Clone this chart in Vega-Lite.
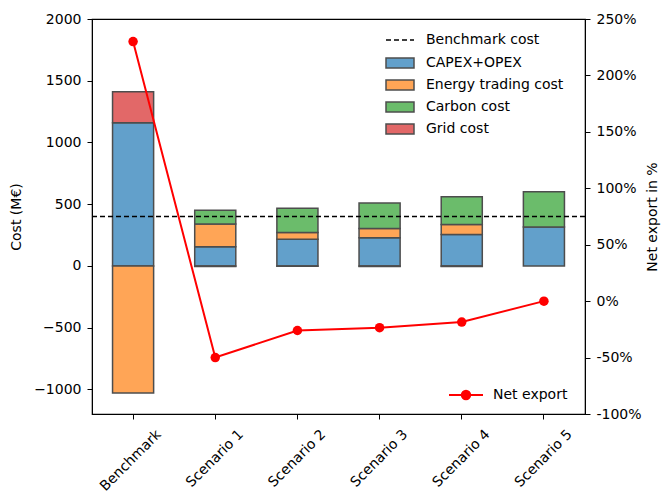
{
  "$schema": "https://vega.github.io/schema/vega-lite/v6.json",
  "width": 493,
  "height": 395,
  "padding": {"left": 9, "top": 12, "right": 2, "bottom": 5},
  "config": {
    "font": "DejaVu Sans",
    "view": {"stroke": "black", "strokeWidth": 1.2},
    "axis": {"grid": false, "labelFontSize": 14, "titleFontSize": 14, "titleFontWeight": "normal", "labelColor": "black", "titleColor": "black", "domainColor": "black", "tickColor": "black", "tickSize": 5, "labelPadding": 6, "labelFont": "DejaVu Sans", "titleFont": "DejaVu Sans"},
    "legend": {"labelFontSize": 14, "labelFont": "DejaVu Sans", "labelColor": "black"}
  },
  "datasets": {
    "costs": [
      {"scenario": "Benchmark", "component": "CAPEX+OPEX", "ord": 1, "value": 1160},
      {"scenario": "Benchmark", "component": "Energy trading cost", "ord": 2, "value": -1030},
      {"scenario": "Benchmark", "component": "Carbon cost", "ord": 3, "value": 0},
      {"scenario": "Benchmark", "component": "Grid cost", "ord": 4, "value": 250},
      {"scenario": "Scenario 1", "component": "CAPEX+OPEX", "ord": 1, "value": 155},
      {"scenario": "Scenario 1", "component": "Energy trading cost", "ord": 2, "value": 185},
      {"scenario": "Scenario 1", "component": "Carbon cost", "ord": 3, "value": 110},
      {"scenario": "Scenario 1", "component": "Grid cost", "ord": 4, "value": -5},
      {"scenario": "Scenario 2", "component": "CAPEX+OPEX", "ord": 1, "value": 215},
      {"scenario": "Scenario 2", "component": "Energy trading cost", "ord": 2, "value": 55},
      {"scenario": "Scenario 2", "component": "Carbon cost", "ord": 3, "value": 197},
      {"scenario": "Scenario 2", "component": "Grid cost", "ord": 4, "value": -3},
      {"scenario": "Scenario 3", "component": "CAPEX+OPEX", "ord": 1, "value": 228},
      {"scenario": "Scenario 3", "component": "Energy trading cost", "ord": 2, "value": 75},
      {"scenario": "Scenario 3", "component": "Carbon cost", "ord": 3, "value": 207},
      {"scenario": "Scenario 3", "component": "Grid cost", "ord": 4, "value": -6},
      {"scenario": "Scenario 4", "component": "CAPEX+OPEX", "ord": 1, "value": 255},
      {"scenario": "Scenario 4", "component": "Energy trading cost", "ord": 2, "value": 80},
      {"scenario": "Scenario 4", "component": "Carbon cost", "ord": 3, "value": 225},
      {"scenario": "Scenario 4", "component": "Grid cost", "ord": 4, "value": -6},
      {"scenario": "Scenario 5", "component": "CAPEX+OPEX", "ord": 1, "value": 315},
      {"scenario": "Scenario 5", "component": "Energy trading cost", "ord": 2, "value": 0},
      {"scenario": "Scenario 5", "component": "Carbon cost", "ord": 3, "value": 285},
      {"scenario": "Scenario 5", "component": "Grid cost", "ord": 4, "value": 0}
    ],
    "bench": [{"label": "Benchmark cost", "value": 400}],
    "export": [
      {"scenario": "Benchmark", "series": "Net export", "pct": 230},
      {"scenario": "Scenario 1", "series": "Net export", "pct": -50},
      {"scenario": "Scenario 2", "series": "Net export", "pct": -26},
      {"scenario": "Scenario 3", "series": "Net export", "pct": -23.5},
      {"scenario": "Scenario 4", "series": "Net export", "pct": -18.5},
      {"scenario": "Scenario 5", "series": "Net export", "pct": 0}
    ]
  },
  "layer": [
    {
      "layer": [
        {
          "data": {"name": "costs"},
          "transform": [{"filter": "datum.value != 0"}],
          "mark": {"type": "bar", "stroke": "#4d4d4d", "strokeWidth": 1.5},
          "encoding": {
            "x": {
              "field": "scenario", "type": "nominal",
              "sort": ["Benchmark", "Scenario 1", "Scenario 2", "Scenario 3", "Scenario 4", "Scenario 5"],
              "scale": {"paddingInner": 0.5, "paddingOuter": 0.25},
              "axis": {"title": null, "labelAngle": -45, "labelAlign": "right", "labelBaseline": "top", "labelPadding": 8, "labelOffset": 21}
            },
            "y": {
              "field": "value", "type": "quantitative", "stack": "zero",
              "scale": {"domain": [-1200, 2000], "nice": false},
              "axis": {"title": "Cost (M€)", "values": [-1000, -500, 0, 500, 1000, 1500, 2000], "labelExpr": "replace(datum.label, '-', '−')", "format": "d", "titlePadding": 10}
            },
            "fill": {
              "field": "component", "type": "nominal",
              "scale": {"domain": ["CAPEX+OPEX", "Energy trading cost", "Carbon cost", "Grid cost"], "range": ["#62a0cb", "#ffa556", "#6bbc6b", "#e26868"]},
              "legend": {"title": null, "orient": "none", "legendX": 297, "legendY": 33, "symbolType": "M-1.4,-0.5H1.4V0.5H-1.4Z", "symbolSize": 400, "symbolStrokeColor": "#4d4d4d", "symbolStrokeWidth": 1.5, "labelOffset": 15, "rowPadding": 3}
            },
            "order": {"field": "ord", "type": "quantitative"}
          }
        },
        {
          "data": {"name": "bench"},
          "mark": {"type": "rule", "color": "black", "strokeWidth": 1.3},
          "encoding": {
            "y": {"field": "value", "type": "quantitative"},
            "strokeDash": {
              "field": "label", "type": "nominal",
              "scale": {"range": [[5, 3]]},
              "legend": {"title": null, "orient": "none", "legendX": 297, "legendY": 10, "symbolType": "M-1.4,0H1.4", "symbolSize": 400, "symbolStrokeColor": "black", "symbolStrokeWidth": 1.3, "labelOffset": 15}
            }
          }
        }
      ]
    },
    {
      "layer": [
        {
          "data": {"name": "export"},
          "mark": {"type": "line", "strokeWidth": 2},
          "encoding": {
            "x": {"field": "scenario", "type": "nominal", "sort": ["Benchmark", "Scenario 1", "Scenario 2", "Scenario 3", "Scenario 4", "Scenario 5"]},
            "y": {
              "field": "pct", "type": "quantitative",
              "scale": {"domain": [-100, 250], "nice": false},
              "axis": {"orient": "right", "title": "Net export in %", "titleAngle": 270, "titleBaseline": "top", "values": [-100, -50, 0, 50, 100, 150, 200, 250], "labelExpr": "datum.value + '%'", "titlePadding": 4}
            },
            "stroke": {
              "field": "series", "type": "nominal",
              "scale": {"range": ["#ff0000"]},
              "legend": {"title": null, "orient": "none", "legendX": 363, "legendY": 365, "symbolType": "M-1.7,0H1.7M0.42,0A0.42,0.42 0 1 1 -0.42,0A0.42,0.42 0 1 1 0.42,0", "symbolSize": 400, "symbolFillColor": "#ff0000", "symbolStrokeWidth": 2, "labelOffset": 16}
            }
          }
        },
        {
          "data": {"name": "export"},
          "mark": {"type": "point", "filled": true, "color": "#ff0000", "opacity": 1, "size": 90},
          "encoding": {
            "x": {"field": "scenario", "type": "nominal", "sort": ["Benchmark", "Scenario 1", "Scenario 2", "Scenario 3", "Scenario 4", "Scenario 5"]},
            "y": {"field": "pct", "type": "quantitative"}
          }
        }
      ]
    }
  ],
  "resolve": {"scale": {"y": "independent"}}
}
